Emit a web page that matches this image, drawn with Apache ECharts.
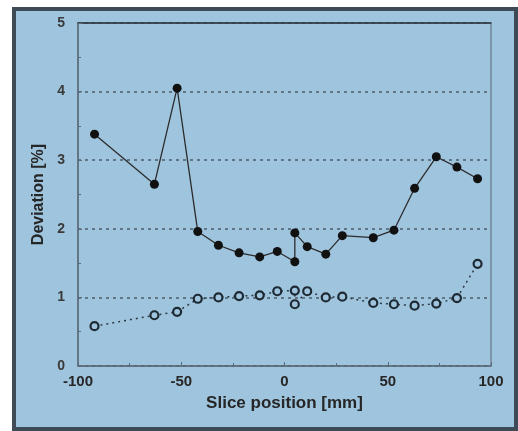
<!DOCTYPE html>
<html>
<head>
<meta charset="utf-8">
<script src="https://cdn.jsdelivr.net/npm/echarts@6/dist/echarts.min.js"></script>
<style>
html,body{margin:0;padding:0;background:#fff;}
#c{width:518px;height:431px;}
</style>
</head>
<body>
<div id="c"></div>
<script>
// Slice positions (mm)
const positions = [-92, -63, -52, -42, -32, -22, -12, -3.5, 5, 5, 11, 20, 28, 43, 53, 63, 73.5, 83.5, 93.5];
// Filled circles (solid line) deviation [%]
const filledDev = [3.38, 2.65, 4.05, 1.96, 1.76, 1.65, 1.59, 1.67, 1.52, 1.94, 1.74, 1.63, 1.90, 1.87, 1.98, 2.59, 3.05, 2.90, 2.73];
// Open circles (dotted line) deviation [%]
const openDev = [0.58, 0.74, 0.79, 0.98, 1.00, 1.02, 1.03, 1.09, 1.10, 0.90, 1.09, 1.00, 1.01, 0.92, 0.90, 0.88, 0.91, 0.99, 1.49];
const xTicks = [-100, -50, 0, 50, 100];
const yTicks = [0, 1, 2, 3, 4, 5];

const pair = (xs, ys) => xs.map((x, i) => [x, ys[i]]);
const font = 'Liberation Sans, Arial, sans-serif';
const bg = '#9fc4de';
const chart = echarts.init(document.getElementById('c'), null, {renderer: 'canvas'});
chart.setOption({
  backgroundColor: '#ffffff',
  animation: false,
  graphic: [{
    type: 'rect', z: -10,
    shape: {x: 14, y: 9, width: 502, height: 420},
    style: {fill: bg, stroke: '#3e4b57', lineWidth: 4}
  }],
  grid: {left: 78, right: 27, top: 23, bottom: 65, show: true, borderColor: '#5b6b78', borderWidth: 1, backgroundColor: 'transparent'},
  xAxis: [{
    type: 'value', min: xTicks[0], max: xTicks[xTicks.length - 1], interval: 50,
    name: 'Slice position [mm]', nameLocation: 'middle', nameGap: 29,
    nameTextStyle: {fontFamily: font, fontWeight: 'bold', fontSize: 17, color: '#262626'},
    axisLine: {show: true, onZero: false, lineStyle: {color: '#5b6b78', width: 1.5}},
    axisTick: {show: true, inside: true, length: 4, lineStyle: {color: '#5b6b78'}},
    minorTick: {show: true, splitNumber: 2, length: 3, lineStyle: {color: '#5b6b78'}},
    axisLabel: {fontFamily: font, fontWeight: 'bold', fontSize: 15, color: '#262626', margin: 8},
    splitLine: {show: false}
  }, {
    type: 'value', position: 'top', min: xTicks[0], max: xTicks[xTicks.length - 1], interval: 50,
    axisLine: {show: true, onZero: false, lineStyle: {color: '#2a3540', width: 1.5}},
    axisTick: {show: false}, axisLabel: {show: false}, splitLine: {show: false}
  }],
  yAxis: {
    type: 'value', min: yTicks[0], max: yTicks[yTicks.length - 1], interval: 1,
    name: 'Deviation [%]', nameLocation: 'middle', nameGap: 23,
    nameTextStyle: {fontFamily: font, fontWeight: 'bold', fontSize: 16, color: '#262626'},
    axisLine: {show: true, onZero: false, lineStyle: {color: '#5b6b78', width: 1.5}},
    axisTick: {show: true, inside: true, length: 4, lineStyle: {color: '#5b6b78'}},
    minorTick: {show: true, splitNumber: 2, length: 3, lineStyle: {color: '#5b6b78'}},
    axisLabel: {fontFamily: font, fontWeight: 'bold', fontSize: 14, color: '#3a3a3a', margin: 13},
    splitLine: {show: true, lineStyle: {color: '#4e5d6a', type: [3, 4], width: 1.5}}
  },
  series: [{
    type: 'line', data: pair(positions, filledDev),
    symbol: 'circle', symbolSize: 9,
    itemStyle: {color: '#111'},
    lineStyle: {color: '#2c2c2c', width: 1.3, type: 'solid'},
    z: 5
  }, {
    type: 'line', data: pair(positions, openDev),
    symbol: 'circle', symbolSize: 8,
    itemStyle: {color: bg, borderColor: '#1e2a33', borderWidth: 2.2},
    lineStyle: {color: '#2c3a44', width: 1.5, type: [2, 4]},
    z: 4
  }]
});
</script>
</body>
</html>
